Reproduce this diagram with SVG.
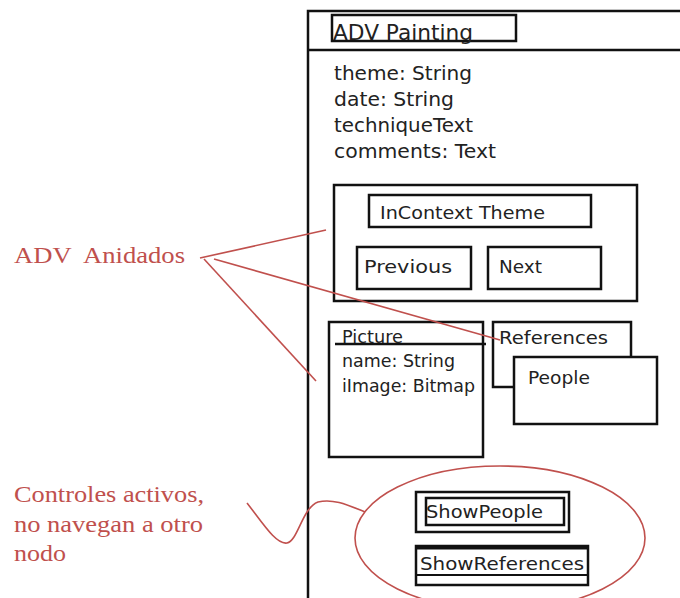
<svg xmlns="http://www.w3.org/2000/svg" width="680" height="598" viewBox="0 0 680 598">
  <style>
    .box { fill: none; stroke: #111; stroke-width: 2.5; }
    .fill { fill: #fff; stroke: #111; stroke-width: 2.5; }
    .lbl { font-family: "DejaVu Sans", "Liberation Sans", sans-serif; fill: #222; }
    .note { font-family: "Liberation Serif", "Times New Roman", serif; fill: #c0504d; font-size: 24px; }
    .red { fill: none; stroke: #c0504d; stroke-width: 1.6; }
  </style>
  <rect width="680" height="598" fill="#fff"/>

  <!-- page frame -->
  <g id="adv-painting">
    <path class="box" d="M682,11 H308 V600"/>
    <line class="box" x1="308" y1="50" x2="682" y2="50"/>
    <rect class="box" x="332" y="15" width="184" height="26"/>
    <text class="lbl" x="333" y="40" font-size="22" textLength="140" lengthAdjust="spacingAndGlyphs">ADV Painting</text>
    <text class="lbl" x="334" y="80" font-size="19.5" textLength="138" lengthAdjust="spacingAndGlyphs">theme: String</text>
    <text class="lbl" x="334" y="106" font-size="19.5" textLength="120" lengthAdjust="spacingAndGlyphs">date: String</text>
    <text class="lbl" x="334" y="132" font-size="19.5" textLength="139" lengthAdjust="spacingAndGlyphs">techniqueText</text>
    <text class="lbl" x="334" y="158" font-size="19.5" textLength="162" lengthAdjust="spacingAndGlyphs">comments: Text</text>
  </g>

  <!-- nested navigation context -->
  <g id="context-nav">
    <rect class="box" x="334" y="185" width="303" height="116"/>
    <rect class="box" x="369" y="195" width="222" height="32"/>
    <text class="lbl" x="380" y="219" font-size="18.5" textLength="165" lengthAdjust="spacingAndGlyphs">InContext Theme</text>
    <rect class="box" x="357" y="247" width="114" height="42"/>
    <text class="lbl" x="364" y="273" font-size="18.5" textLength="88" lengthAdjust="spacingAndGlyphs">Previous</text>
    <rect class="box" x="488" y="247" width="113" height="42"/>
    <text class="lbl" x="499" y="273" font-size="18.5" textLength="43" lengthAdjust="spacingAndGlyphs">Next</text>
  </g>

  <g id="picture">
    <rect class="box" x="329" y="322" width="154" height="135"/>
    <line class="box" x1="335" y1="344" x2="486" y2="344"/>
    <text class="lbl" x="342" y="343" font-size="17.5" textLength="61" lengthAdjust="spacingAndGlyphs">Picture</text>
    <text class="lbl" x="342" y="367" font-size="17.5" textLength="113" lengthAdjust="spacingAndGlyphs">name: String</text>
    <text class="lbl" x="342" y="392" font-size="17.5" textLength="133" lengthAdjust="spacingAndGlyphs">iImage: Bitmap</text>
  </g>

  <g id="references">
    <rect class="fill" x="493" y="322" width="138" height="65"/>
    <text class="lbl" x="499" y="344" font-size="18.5" textLength="109" lengthAdjust="spacingAndGlyphs">References</text>
  </g>

  <g id="people">
    <rect class="fill" x="514" y="357" width="143" height="67"/>
    <text class="lbl" x="528" y="384" font-size="18.5" textLength="62" lengthAdjust="spacingAndGlyphs">People</text>
  </g>

  <g id="show-people">
    <rect class="box" x="416" y="492" width="153" height="40"/>
    <rect class="box" x="426" y="498" width="138" height="27" stroke-width="2"/>
    <text class="lbl" x="426" y="518" font-size="18.5" textLength="117" lengthAdjust="spacingAndGlyphs">ShowPeople</text>
  </g>

  <g id="show-references">
    <rect class="box" x="416" y="546" width="172" height="39"/>
    <line x1="416" y1="548" x2="588" y2="548" stroke="#111" stroke-width="3"/>
    <line x1="416" y1="575" x2="588" y2="575" stroke="#111" stroke-width="2"/>
    <text class="lbl" x="420" y="570" font-size="18.5" textLength="164" lengthAdjust="spacingAndGlyphs">ShowReferences</text>
  </g>

  <!-- annotations -->
  <g id="note-nested">
    <text class="note" x="14" y="263" xml:space="preserve" textLength="171" lengthAdjust="spacingAndGlyphs">ADV  Anidados</text>
  </g>
  <g id="note-controls">
    <text class="note" x="14" y="502" textLength="190" lengthAdjust="spacingAndGlyphs">Controles activos,</text>
    <text class="note" x="14" y="532" textLength="189" lengthAdjust="spacingAndGlyphs">no navegan a otro</text>
    <text class="note" x="14" y="561" textLength="52" lengthAdjust="spacingAndGlyphs">nodo</text>
  </g>

  <g id="connectors">
    <line class="red" x1="200" y1="258" x2="326" y2="230"/>
    <line class="red" x1="214" y1="259" x2="500" y2="340"/>
    <line class="red" x1="204" y1="259" x2="316" y2="381"/>
    <path class="red" d="M247,503 C262,522 276,545 287,543 C298,541 302,508 318,502 C334,498 350,506 365,512"/>
    <ellipse class="red" cx="500" cy="538" rx="145" ry="72"/>
  </g>
</svg>
